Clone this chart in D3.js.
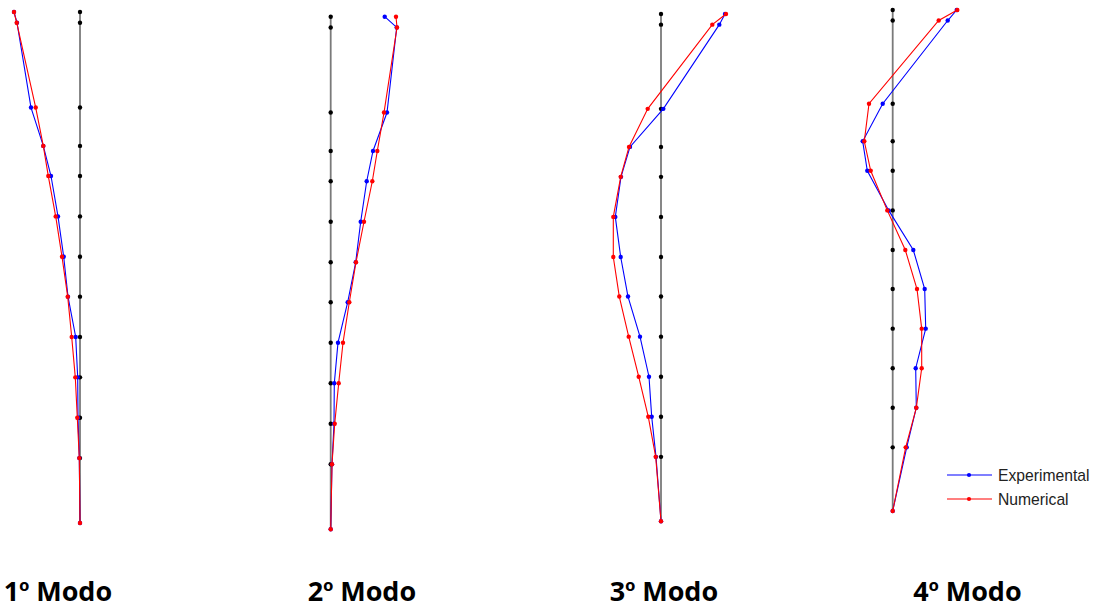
<!DOCTYPE html>
<html>
<head>
<meta charset="utf-8">
<script src="https://cdn.jsdelivr.net/npm/d3@7"></script>
<style>
  html, body { margin: 0; padding: 0; background: #fff; }
  svg { display: block; }
</style>
</head>
<body>
<svg id="chart" width="1095" height="608"></svg>
<script>
// Node heights along the structure (bottom to top, % of total height)
const heights = [0, 12.7, 20.6, 28.5, 36.4, 44.3, 52.1, 60.0, 67.9, 73.8, 81.3, 97.9, 100];

// Mode titles (number, ordinal sign, word)
const modeNumbers = ["1", "2", "3", "4"];
const modeWord = "Modo";

// Modal displacements at each node (same order as heights)
const exp1 = [0, -0.7, -2, -2.3, -4.3, -12, -16.3, -22, -29, -36.7, -49, -63, -66];
const num1 = [0, -0.7, -2.7, -4.7, -8.3, -12.3, -18, -24.3, -31.7, -36.7, -44.3, -63.3, -66];

const exp2 = [0, 1.3, 3.3, 3.6, 7.3, 17, 25, 30, 36, 42.3, 56.3, 66, 54];
const num2 = [0, 1.3, 4, 8, 12.3, 18.6, 25.3, 33.3, 41.6, 46.6, 53.3, 66.3, 65.3];

const exp3 = [0, -5, -9.3, -12, -21, -33, -40.3, -45.7, -40, -31, 2.3, 58.3, 64];
const num3 = [0, -5.3, -12.7, -22.3, -32.3, -41.7, -47.7, -47.7, -40.3, -32, -13.3, 51.3, 65];

const exp4 = [0, 14, 23.6, 23, 33, 32, 20.6, -4, -25.4, -30, -10, 55, 64];
const num4 = [0, 13, 23.6, 29, 29, 24.3, 12.6, -5.4, -22, -28.4, -23.7, 46, 64.6];

const legendLabels = ["Experimental", "Numerical"];

// Panel geometry: undeformed axis position and vertical extent
const panels = [
  { axis: 80,    bottom: 523,   top: 12,   title: 58,    exp: exp1, num: num1 },
  { axis: 330.7, bottom: 529.3, top: 16.7, title: 362,   exp: exp2, num: num2 },
  { axis: 661,   bottom: 521.3, top: 14,   title: 664,   exp: exp3, num: num3 },
  { axis: 892.7, bottom: 511,   top: 10,   title: 967.5, exp: exp4, num: num4 }
];

const colors = { exp: "#0000ff", num: "#ff0000", axis: "#7a7a7a" };

const svg = d3.select("#chart");

panels.forEach((p, i) => {
  const y = d3.scaleLinear().domain([0, 100]).range([p.bottom, p.top]);
  const x = d3.scaleLinear().domain([-70, 70]).range([p.axis - 70, p.axis + 70]);
  const g = svg.append("g");

  // Undeformed shape
  const zero = heights.map(h => ({ h, v: 0 }));
  const line = d3.line().x(d => x(d.v)).y(d => y(d.h));
  g.append("path").datum(zero).attr("d", line)
    .attr("fill", "none").attr("stroke", colors.axis).attr("stroke-width", 1.8);
  g.selectAll("circle.base").data(zero.slice(1)).join("circle")
    .attr("class", "base")
    .attr("cx", d => x(d.v)).attr("cy", d => y(d.h)).attr("r", 2.2)
    .attr("fill", "#000");

  // Experimental then numerical mode shapes
  [["exp", p.exp], ["num", p.num]].forEach(([key, vals]) => {
    const pts = heights.map((h, k) => ({ h, v: vals[k] }));
    g.append("path").datum(pts).attr("d", line)
      .attr("fill", "none").attr("stroke", colors[key]).attr("stroke-width", 1.1);
    g.selectAll("circle." + key).data(pts).join("circle")
      .attr("class", key)
      .attr("cx", d => x(d.v)).attr("cy", d => y(d.h)).attr("r", 2.2)
      .attr("fill", colors[key]);
  });

  const t = svg.append("text")
    .attr("x", p.title).attr("y", 601)
    .attr("text-anchor", "middle")
    .attr("font-family", "'Open Sans', sans-serif")
    .attr("font-weight", 700)
    .attr("font-size", 27)
    .attr("fill", "#000");
  t.append("tspan").text(modeNumbers[i]);
  t.append("tspan").attr("font-family", "'Liberation Sans', Arial, sans-serif").text("º");
  t.append("tspan").text(" " + modeWord);
});

// Legend
const legend = svg.append("g");
legendLabels.forEach((label, i) => {
  const key = i === 0 ? "exp" : "num";
  const ly = 475 + i * 24;
  legend.append("line").attr("x1", 947).attr("x2", 992).attr("y1", ly).attr("y2", ly)
    .attr("stroke", colors[key]).attr("stroke-width", 1.1);
  legend.append("circle").attr("cx", 969).attr("cy", ly).attr("r", 2.1).attr("fill", colors[key]);
  legend.append("text").attr("x", 998).attr("y", ly + 6)
    .attr("font-family", "'Liberation Sans', Arial, sans-serif")
    .attr("font-size", 15.7).attr("fill", "#222").text(label);
});
</script>
</body>
</html>
